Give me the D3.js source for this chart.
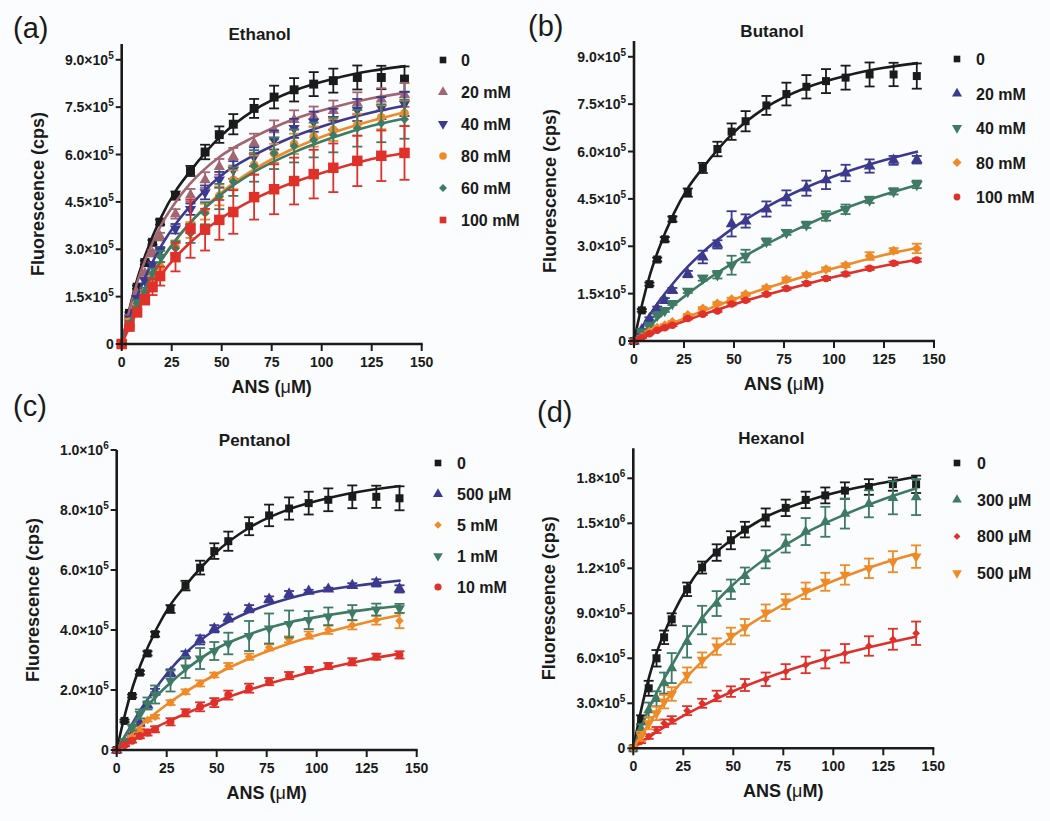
<!DOCTYPE html>
<html>
<head>
    <meta charset="utf-8">
    <title>ANS binding in alcohols</title>
    <script type="text/javascript" src="https://d3js.org/d3.v7.min.js"></script>
    <style>
        body { margin: 0; background: #fbfcfd; }
        svg { font-family: Arial, "Liberation Sans", Helvetica, sans-serif; }
        .tick-label { font-size: 14px; font-weight: bold; fill: #1a1a1a; }
        .axis-title { font-size: 18px; font-weight: bold; fill: #1a1a1a; }
        .legend-label { font-size: 16px; font-weight: bold; fill: #1a1a1a; }
        .panel-title { font-size: 17px; font-weight: bold; fill: #1a1a1a; }
        .panel-letter { font-size: 29px; fill: #1a1a1a; }
    </style>
</head>
<body>
<script type="text/javascript">
    // ANS concentrations (uM) of the titration points
    var ansX = [0, 3.9, 7.7, 11.6, 15.4, 19.2, 26.9, 34.4, 41.7, 48.8, 55.8, 66.2, 76.2, 86.2, 96, 105.8, 117.8, 129.8, 141.4];
    var fitX = [0, 4, 8, 12, 20, 27, 34, 49, 66, 86, 106, 125, 142];

    // fluorescence values below are in units of 1e5 cps
    // control (no alcohol), same set in panels a, b, c
    var ctrl = [0, 0.97, 1.8, 2.58, 3.22, 3.86, 4.70, 5.48, 6.08, 6.63, 6.96, 7.46, 7.82, 8.05, 8.23, 8.34, 8.44, 8.44, 8.39];
    var ctrlErr = [0, 0.04, 0.05, 0.06, 0.07, 0.08, 0.13, 0.16, 0.23, 0.26, 0.32, 0.30, 0.36, 0.37, 0.38, 0.38, 0.38, 0.37, 0.40];
    var ctrlFit = [0, 1.15, 2.1, 2.85, 4.05, 4.85, 5.45, 6.55, 7.4, 8.02, 8.4, 8.65, 8.8];

    // (a) ethanol
    var eth20 = [0, 0.87, 1.6, 2.24, 2.87, 3.4, 4.12, 4.71, 5.19, 5.61, 5.93, 6.36, 6.78, 7.1, 7.2, 7.39, 7.62, 7.75, 7.89];
    var eth20Err = [0, 0.05, 0.06, 0.08, 0.1, 0.12, 0.15, 0.2, 0.25, 0.25, 0.28, 0.3, 0.3, 0.3, 0.32, 0.32, 0.35, 0.35, 0.38];
    var eth20Fit = [0, 1.1, 2.0, 2.7, 3.8, 4.5, 5.06, 5.93, 6.55, 7.12, 7.5, 7.78, 7.96];
    var eth40 = [0, 0.8, 1.45, 2.0, 2.5, 2.95, 3.65, 4.27, 4.8, 5.2, 5.51, 5.93, 6.46, 6.83, 7.04, 7.12, 7.41, 7.47, 7.6];
    var eth40Err = [0, 0.05, 0.07, 0.09, 0.1, 0.12, 0.15, 0.18, 0.22, 0.25, 0.28, 0.3, 0.3, 0.3, 0.32, 0.33, 0.35, 0.35, 0.38];
    var eth40Fit = [0, 0.84, 1.55, 2.15, 3.13, 3.8, 4.35, 5.3, 5.97, 6.57, 7.01, 7.33, 7.55];
    var eth80 = [0, 0.7, 1.18, 1.6, 2.03, 2.45, 3.08, 3.61, 4.19, 4.69, 5.2, 5.67, 6.04, 6.34, 6.57, 6.78, 6.94, 7.18, 7.31];
    var eth80Err = [0, 0.1, 0.08, 0.1, 0.12, 0.15, 0.2, 0.25, 0.25, 0.3, 0.3, 0.3, 0.3, 0.32, 0.32, 0.35, 0.35, 0.38, 0.4];
    var eth80Fit = [0, 0.67, 1.26, 1.78, 2.67, 3.29, 3.83, 4.75, 5.52, 6.19, 6.7, 7.07, 7.35];
    var eth60 = [0, 0.65, 1.29, 1.66, 2.24, 2.77, 3.03, 3.5, 4.14, 4.67, 5.14, 5.64, 6.04, 6.27, 6.46, 6.62, 6.83, 6.99, 7.12];
    var eth60Err = [0, 0.08, 0.1, 0.12, 0.15, 0.18, 0.22, 0.3, 0.35, 0.4, 0.45, 0.5, 0.5, 0.52, 0.55, 0.55, 0.58, 0.6, 0.62];
    var eth60Fit = [0, 0.68, 1.27, 1.8, 2.67, 3.29, 3.82, 4.7, 5.44, 6.07, 6.55, 6.91, 7.15];
    var eth100 = [0, 0.55, 1.0, 1.4, 1.8, 2.15, 2.75, 3.65, 3.62, 3.93, 4.18, 4.65, 4.9, 5.16, 5.38, 5.58, 5.8, 5.96, 6.05];
    var eth100Err = [0, 0.05, 0.1, 0.15, 0.25, 0.3, 0.45, 0.92, 0.66, 0.63, 0.69, 0.71, 0.79, 0.74, 0.77, 0.77, 0.8, 0.8, 0.85];
    var eth100Fit = [0, 0.56, 1.06, 1.49, 2.22, 2.75, 3.2, 3.95, 4.58, 5.12, 5.53, 5.86, 6.05];

    // (b) butanol
    var but20 = [0, 0.35, 0.7, 1.03, 1.28, 1.6, 2.12, 2.66, 3.06, 3.71, 3.8, 4.18, 4.53, 4.84, 5.1, 5.32, 5.54, 5.72, 5.74];
    var but20Err = [0, 0.03, 0.05, 0.06, 0.08, 0.08, 0.1, 0.2, 0.13, 0.4, 0.21, 0.24, 0.24, 0.24, 0.29, 0.26, 0.21, 0.14, 0.12];
    var but20Fit = [0, 0.44, 0.84, 1.21, 1.86, 2.36, 2.79, 3.55, 4.23, 4.86, 5.35, 5.72, 6.0];
    var but40 = [0, 0.29, 0.5, 0.82, 0.97, 1.19, 1.58, 1.99, 2.1, 2.4, 2.69, 3.15, 3.44, 3.68, 3.96, 4.17, 4.47, 4.74, 4.96];
    var but40Err = [0, 0.02, 0.03, 0.04, 0.05, 0.05, 0.06, 0.08, 0.12, 0.3, 0.2, 0.1, 0.08, 0.1, 0.15, 0.15, 0.1, 0.1, 0.12];
    var but40Fit = [0, 0.25, 0.49, 0.72, 1.15, 1.5, 1.83, 2.45, 3.06, 3.67, 4.21, 4.63, 4.95];
    var but80 = [0, 0.13, 0.29, 0.42, 0.5, 0.6, 0.82, 1.03, 1.19, 1.32, 1.48, 1.69, 1.95, 2.09, 2.27, 2.4, 2.69, 2.86, 2.93];
    var but80Err = [0, 0.02, 0.02, 0.02, 0.03, 0.03, 0.03, 0.04, 0.04, 0.05, 0.05, 0.05, 0.06, 0.06, 0.06, 0.06, 0.12, 0.08, 0.15];
    var but80Fit = [0, 0.12, 0.24, 0.36, 0.58, 0.77, 0.94, 1.3, 1.67, 2.06, 2.41, 2.72, 2.95];
    var but100 = [0, 0.11, 0.23, 0.34, 0.42, 0.5, 0.71, 0.85, 0.95, 1.17, 1.29, 1.48, 1.66, 1.82, 1.98, 2.12, 2.3, 2.46, 2.56];
    var but100Err = [0, 0.02, 0.02, 0.02, 0.02, 0.03, 0.03, 0.03, 0.03, 0.04, 0.04, 0.04, 0.04, 0.05, 0.05, 0.05, 0.05, 0.05, 0.05];
    var but100Fit = [0, 0.11, 0.21, 0.32, 0.51, 0.67, 0.83, 1.14, 1.46, 1.8, 2.12, 2.38, 2.58];

    // (c) pentanol
    var pen500 = [0, 0.22, 0.5, 0.89, 1.5, 1.94, 2.57, 3.17, 3.67, 4.04, 4.4, 4.71, 5.02, 5.2, 5.29, 5.36, 5.48, 5.57, 5.37];
    var pen500Err = [0, 0.03, 0.05, 0.06, 0.08, 0.1, 0.12, 0.12, 0.15, 0.12, 0.12, 0.12, 0.1, 0.1, 0.05, 0.05, 0.08, 0.12, 0.12];
    var pen500Fit = [0, 0.45, 0.9, 1.35, 2.1, 2.7, 3.2, 4.0, 4.6, 5.05, 5.35, 5.52, 5.65];
    var pen5 = [0, 0.22, 0.44, 0.67, 1.0, 1.11, 1.58, 1.94, 2.22, 2.5, 2.8, 3.11, 3.42, 3.69, 3.83, 4.02, 4.17, 4.33, 4.31];
    var pen5Err = [0, 0.03, 0.04, 0.05, 0.05, 0.06, 0.08, 0.08, 0.1, 0.08, 0.1, 0.1, 0.1, 0.1, 0.12, 0.15, 0.15, 0.15, 0.25];
    var pen5Fit = [0, 0.29, 0.56, 0.81, 1.26, 1.61, 1.92, 2.5, 3.04, 3.54, 3.94, 4.26, 4.5];
    var pen1 = [0, 0.3, 0.75, 1.2, 1.55, 1.85, 2.3, 2.75, 3.05, 3.3, 3.55, 3.8, 4.05, 4.2, 4.33, 4.45, 4.58, 4.68, 4.72];
    var pen1Err = [0, 0.05, 0.1, 0.15, 0.2, 0.3, 0.35, 0.35, 0.35, 0.3, 0.36, 0.5, 0.5, 0.45, 0.3, 0.3, 0.25, 0.2, 0.15];
    var pen1Fit = [0, 0.45, 0.85, 1.2, 1.8, 2.25, 2.65, 3.35, 3.85, 4.25, 4.5, 4.68, 4.8];
    var pen10 = [0, 0.17, 0.31, 0.47, 0.58, 0.69, 0.94, 1.24, 1.44, 1.58, 1.83, 2.06, 2.28, 2.48, 2.67, 2.8, 2.94, 3.11, 3.17];
    var pen10Err = [0, 0.05, 0.06, 0.08, 0.1, 0.1, 0.12, 0.12, 0.15, 0.15, 0.15, 0.15, 0.12, 0.12, 0.1, 0.1, 0.12, 0.1, 0.12];
    var pen10Fit = [0, 0.17, 0.33, 0.48, 0.77, 0.99, 1.2, 1.6, 2.0, 2.4, 2.74, 3.01, 3.22];

    // (d) hexanol
    var hex0 = [0, 1.9, 4.0, 6.0, 7.4, 8.6, 10.6, 12.05, 13.05, 13.87, 14.58, 15.39, 16.03, 16.56, 16.86, 17.18, 17.42, 17.61, 17.6];
    var hex0Err = [0, 0.3, 0.5, 0.55, 0.45, 0.4, 0.45, 0.4, 0.55, 0.6, 0.52, 0.6, 0.55, 0.55, 0.53, 0.55, 0.52, 0.44, 0.58];
    var hex0Fit = [0, 2.6, 4.8, 6.5, 9.0, 10.7, 12.05, 13.9, 15.4, 16.45, 17.2, 17.7, 18.1];
    var hex300 = [0, 1.3, 2.55, 3.3, 4.35, 5.35, 7.1, 8.55, 9.65, 10.6, 11.5, 12.6, 13.65, 14.45, 15.1, 15.65, 16.3, 16.7, 16.75];
    var hex300Err = [0, 0.3, 0.5, 0.5, 0.7, 1.0, 1.05, 0.95, 0.83, 0.65, 0.55, 0.6, 0.6, 0.9, 1.0, 1.0, 0.9, 1.1, 1.2];
    var hex300Fit = [0, 1.4, 2.7, 3.8, 5.7, 7.3, 8.6, 10.8, 12.65, 14.35, 15.6, 16.6, 17.35];
    var hex800 = [0, 0.44, 0.78, 1.22, 1.67, 1.89, 2.51, 3.0, 3.49, 3.78, 4.22, 4.6, 5.11, 5.56, 5.93, 6.33, 6.82, 7.27, 7.67];
    var hex800Err = [0, 0.1, 0.15, 0.2, 0.25, 0.25, 0.3, 0.3, 0.35, 0.35, 0.4, 0.45, 0.5, 0.55, 0.6, 0.62, 0.65, 0.7, 0.78];
    var hex800Fit = [0, 0.39, 0.77, 1.12, 1.78, 2.31, 2.8, 3.75, 4.66, 5.57, 6.34, 6.96, 7.45];
    var hex500 = [0, 0.8, 1.67, 2.33, 3.11, 3.62, 4.89, 5.89, 6.78, 7.49, 8.07, 9.04, 9.78, 10.5, 11.1, 11.56, 12.0, 12.44, 12.78];
    var hex500Err = [0, 0.3, 0.4, 0.45, 0.45, 0.45, 0.5, 0.5, 0.55, 0.55, 0.55, 0.55, 0.5, 0.55, 0.6, 0.65, 0.65, 0.7, 0.75];
    var hex500Fit = [0, 0.88, 1.69, 2.44, 3.78, 4.81, 5.73, 7.4, 8.9, 10.34, 11.47, 12.35, 13.0];

    // tick values (1e5 cps)
    var ticksAB = [0, 1.5, 3, 4.5, 6, 7.5, 9];
    var ticksC = [0, 2, 4, 6, 8, 10];
    var ticksD = [0, 3, 6, 9, 12, 15, 18];
    var xTicks = [0, 25, 50, 75, 100, 125, 150];

    var black = "#1b1b1b", mauve = "#a26672", navy = "#3c3a8e",
        orange = "#f08a26", green = "#3f7b64", red = "#e0302a";

    var panels = [
        {letter: "(a)", title: "Ethanol", x0: 121.7, y0: 344, yTop: 44, yMax: 9.5, ticks: ticksAB,
            letterX: 13, letterY: 38, leg: [443, 461, 60, 32],
            series: [
                {name: "0", mean: ctrl, err: ctrlErr, fit: ctrlFit, color: black, shape: "square", size: 80},
                {name: "20 mM", mean: eth20, err: eth20Err, fit: eth20Fit, color: mauve, shape: "up", size: 55},
                {name: "40 mM", mean: eth40, err: eth40Err, fit: eth40Fit, color: navy, shape: "down", size: 55},
                {name: "80 mM", mean: eth80, err: eth80Err, fit: eth80Fit, color: orange, shape: "circle", size: 60},
                {name: "60 mM", mean: eth60, err: eth60Err, fit: eth60Fit, color: green, shape: "diamond", size: 40},
                {name: "100 mM", mean: eth100, err: eth100Err, fit: eth100Fit, color: red, shape: "square", size: 110}
            ]},
        {letter: "(b)", title: "Butanol", x0: 634, y0: 341, yTop: 41, yMax: 9.5, ticks: ticksAB,
            letterX: 528, letterY: 36, leg: [957, 976, 59, 34.5],
            series: [
                {name: "0", mean: ctrl, err: ctrlErr, fit: ctrlFit, color: black, shape: "square", size: 64},
                {name: "20 mM", mean: but20, err: but20Err, fit: but20Fit, color: navy, shape: "up", size: 60},
                {name: "40 mM", mean: but40, err: but40Err, fit: but40Fit, color: green, shape: "down", size: 60},
                {name: "80 mM", mean: but80, err: but80Err, fit: but80Fit, color: orange, shape: "diamond", size: 50},
                {name: "100 mM", mean: but100, err: but100Err, fit: but100Fit, color: red, shape: "circle", size: 45}
            ]},
        {letter: "(c)", title: "Pentanol", x0: 116.7, y0: 750, yTop: 450, yMax: 10, ticks: ticksC,
            letterX: 13, letterY: 416, leg: [438, 457, 463, 31],
            series: [
                {name: "0", mean: ctrl, err: ctrlErr, fit: ctrlFit, color: black, shape: "square", size: 64},
                {name: "500 \u03bcM", mean: pen500, err: pen500Err, fit: pen500Fit, color: navy, shape: "up", size: 60},
                {name: "5 mM", mean: pen5, err: pen5Err, fit: pen5Fit, color: orange, shape: "diamond", size: 36},
                {name: "1 mM", mean: pen1, err: pen1Err, fit: pen1Fit, color: green, shape: "down", size: 50},
                {name: "10 mM", mean: pen10, err: pen10Err, fit: pen10Fit, color: red, shape: "circle", size: 50}
            ]},
        {letter: "(d)", title: "Hexanol", x0: 633.3, y0: 748.3, yTop: 448.3, yMax: 20, ticks: ticksD,
            letterX: 537, letterY: 422, leg: [957, 977, 463, 36.7],
            series: [
                {name: "0", mean: hex0, err: hex0Err, fit: hex0Fit, color: black, shape: "square", size: 64},
                {name: "300 \u03bcM", mean: hex300, err: hex300Err, fit: hex300Fit, color: green, shape: "up", size: 50},
                {name: "800 \u03bcM", mean: hex800, err: hex800Err, fit: hex800Fit, color: red, shape: "diamond", size: 30},
                {name: "500 \u03bcM", mean: hex500, err: hex500Err, fit: hex500Fit, color: orange, shape: "down", size: 50}
            ]}
    ];

    var svg = d3.select("body").append("svg")
            .attr("width", 1050)
            .attr("height", 821);

    svg.append("rect")
            .attr("width", 1050)
            .attr("height", 821)
            .attr("fill", "#fbfcfd");

    function marker(shape, size) {
        var type = d3.symbolSquare, rot = 0;
        if (shape === "up") type = d3.symbolTriangle;
        if (shape === "down") { type = d3.symbolTriangle; rot = 180; }
        if (shape === "circle") type = d3.symbolCircle;
        if (shape === "diamond") { type = d3.symbolSquare; rot = 45; }
        return {path: d3.symbol().type(type).size(size)(), rot: rot};
    }

    // 9.0x10^5 style labels, value given in 1e5 units
    function sciLabel(sel, v) {
        if (v === 0) { sel.text("0"); return; }
        var real = v * 1e5,
            exp = Math.floor(Math.log10(real) + 1e-9),
            mant = (real / Math.pow(10, exp)).toFixed(1);
        sel.append("tspan").text(mant + "\u00d710");
        sel.append("tspan").attr("dy", -6).attr("font-size", 10).text(exp);
    }

    panels.forEach(function (p) {
        var x = d3.scaleLinear().domain([0, 150]).range([p.x0, p.x0 + 300]);
        var y = d3.scaleLinear().domain([0, p.yMax]).range([p.y0, p.yTop]);
        var g = svg.append("g");

        // series
        p.series.forEach(function (s) {
            var sg = g.append("g");
            var pts = ansX.map(function (d, i) { return {x: d, m: s.mean[i], e: s.err[i]}; });

            var line = d3.line()
                    .x(function (d) { return x(d[0]); })
                    .y(function (d) { return y(d[1]); })
                    .curve(d3.curveMonotoneX);

            sg.append("path")
                    .datum(fitX.map(function (d, i) { return [d, s.fit[i]]; }))
                    .attr("d", line)
                    .attr("fill", "none")
                    .attr("stroke", s.color)
                    .attr("stroke-width", 2.6);

            var eb = sg.selectAll(".eb")
                    .data(pts.filter(function (d) { return d.e > 0; }))
                    .enter().append("g")
                    .attr("stroke", s.color)
                    .attr("stroke-width", 1.8);
            eb.append("line")
                    .attr("x1", function (d) { return x(d.x); })
                    .attr("x2", function (d) { return x(d.x); })
                    .attr("y1", function (d) { return y(d.m - d.e); })
                    .attr("y2", function (d) { return y(d.m + d.e); });
            [-1, 1].forEach(function (sgn) {
                eb.append("line")
                        .attr("x1", function (d) { return x(d.x) - 5; })
                        .attr("x2", function (d) { return x(d.x) + 5; })
                        .attr("y1", function (d) { return y(d.m + sgn * d.e); })
                        .attr("y2", function (d) { return y(d.m + sgn * d.e); });
            });

            var mk = marker(s.shape, s.size);
            sg.selectAll(".pt")
                    .data(pts)
                    .enter().append("path")
                    .attr("d", mk.path)
                    .attr("fill", s.color)
                    .attr("transform", function (d) {
                        return "translate(" + x(d.x) + "," + y(d.m) + ")rotate(" + mk.rot + ")";
                    });
        });

        // y axis
        g.append("line")
                .attr("x1", p.x0).attr("x2", p.x0)
                .attr("y1", p.y0 + 1).attr("y2", p.yTop)
                .attr("stroke", black).attr("stroke-width", 2.6);
        p.ticks.forEach(function (t) {
            g.append("line")
                    .attr("x1", p.x0 - 6).attr("x2", p.x0)
                    .attr("y1", y(t)).attr("y2", y(t))
                    .attr("stroke", black).attr("stroke-width", 2);
            g.append("text")
                    .attr("class", "tick-label")
                    .attr("x", p.x0 - 8)
                    .attr("y", y(t) + 5)
                    .attr("text-anchor", "end")
                    .call(sciLabel, t);
        });

        // x axis
        g.append("line")
                .attr("x1", p.x0 - 1).attr("x2", x(150) + 1)
                .attr("y1", p.y0).attr("y2", p.y0)
                .attr("stroke", black).attr("stroke-width", 2.6);
        xTicks.forEach(function (t) {
            g.append("line")
                    .attr("x1", x(t)).attr("x2", x(t))
                    .attr("y1", p.y0).attr("y2", p.y0 + 7)
                    .attr("stroke", black).attr("stroke-width", 2);
            g.append("text")
                    .attr("class", "tick-label")
                    .attr("x", x(t))
                    .attr("y", p.y0 + 23)
                    .attr("text-anchor", "middle")
                    .text(t);
        });

        // titles
        var xt = g.append("text")
                .attr("class", "axis-title")
                .attr("x", p.x0 + 150)
                .attr("y", p.y0 + 49)
                .attr("text-anchor", "middle");
        xt.append("tspan").text("ANS (");
        xt.append("tspan").attr("font-weight", "normal").text("\u03bc");
        xt.append("tspan").text("M)");

        g.append("text")
                .attr("class", "axis-title")
                .attr("transform", "translate(" + (p.x0 - 78) + "," + ((p.y0 + p.yTop) / 2) + ")rotate(-90)")
                .attr("text-anchor", "middle")
                .text("Fluorescence (cps)");

        g.append("text")
                .attr("class", "panel-title")
                .attr("x", p.x0 + 138)
                .attr("y", p.yTop - 4)
                .attr("text-anchor", "middle")
                .text(p.title);

        g.append("text")
                .attr("class", "panel-letter")
                .attr("x", p.letterX)
                .attr("y", p.letterY)
                .text(p.letter);

        // legend
        p.series.forEach(function (s, i) {
            var ly = p.leg[2] + i * p.leg[3];
            var mk = marker(s.shape, Math.min(s.size, 55) * 0.8);
            g.append("path")
                    .attr("d", mk.path)
                    .attr("fill", s.color)
                    .attr("transform", "translate(" + p.leg[0] + "," + ly + ")rotate(" + mk.rot + ")");
            g.append("text")
                    .attr("class", "legend-label")
                    .attr("x", p.leg[1])
                    .attr("y", ly + 6)
                    .text(s.name);
        });
    });
</script>
</body>
</html>
